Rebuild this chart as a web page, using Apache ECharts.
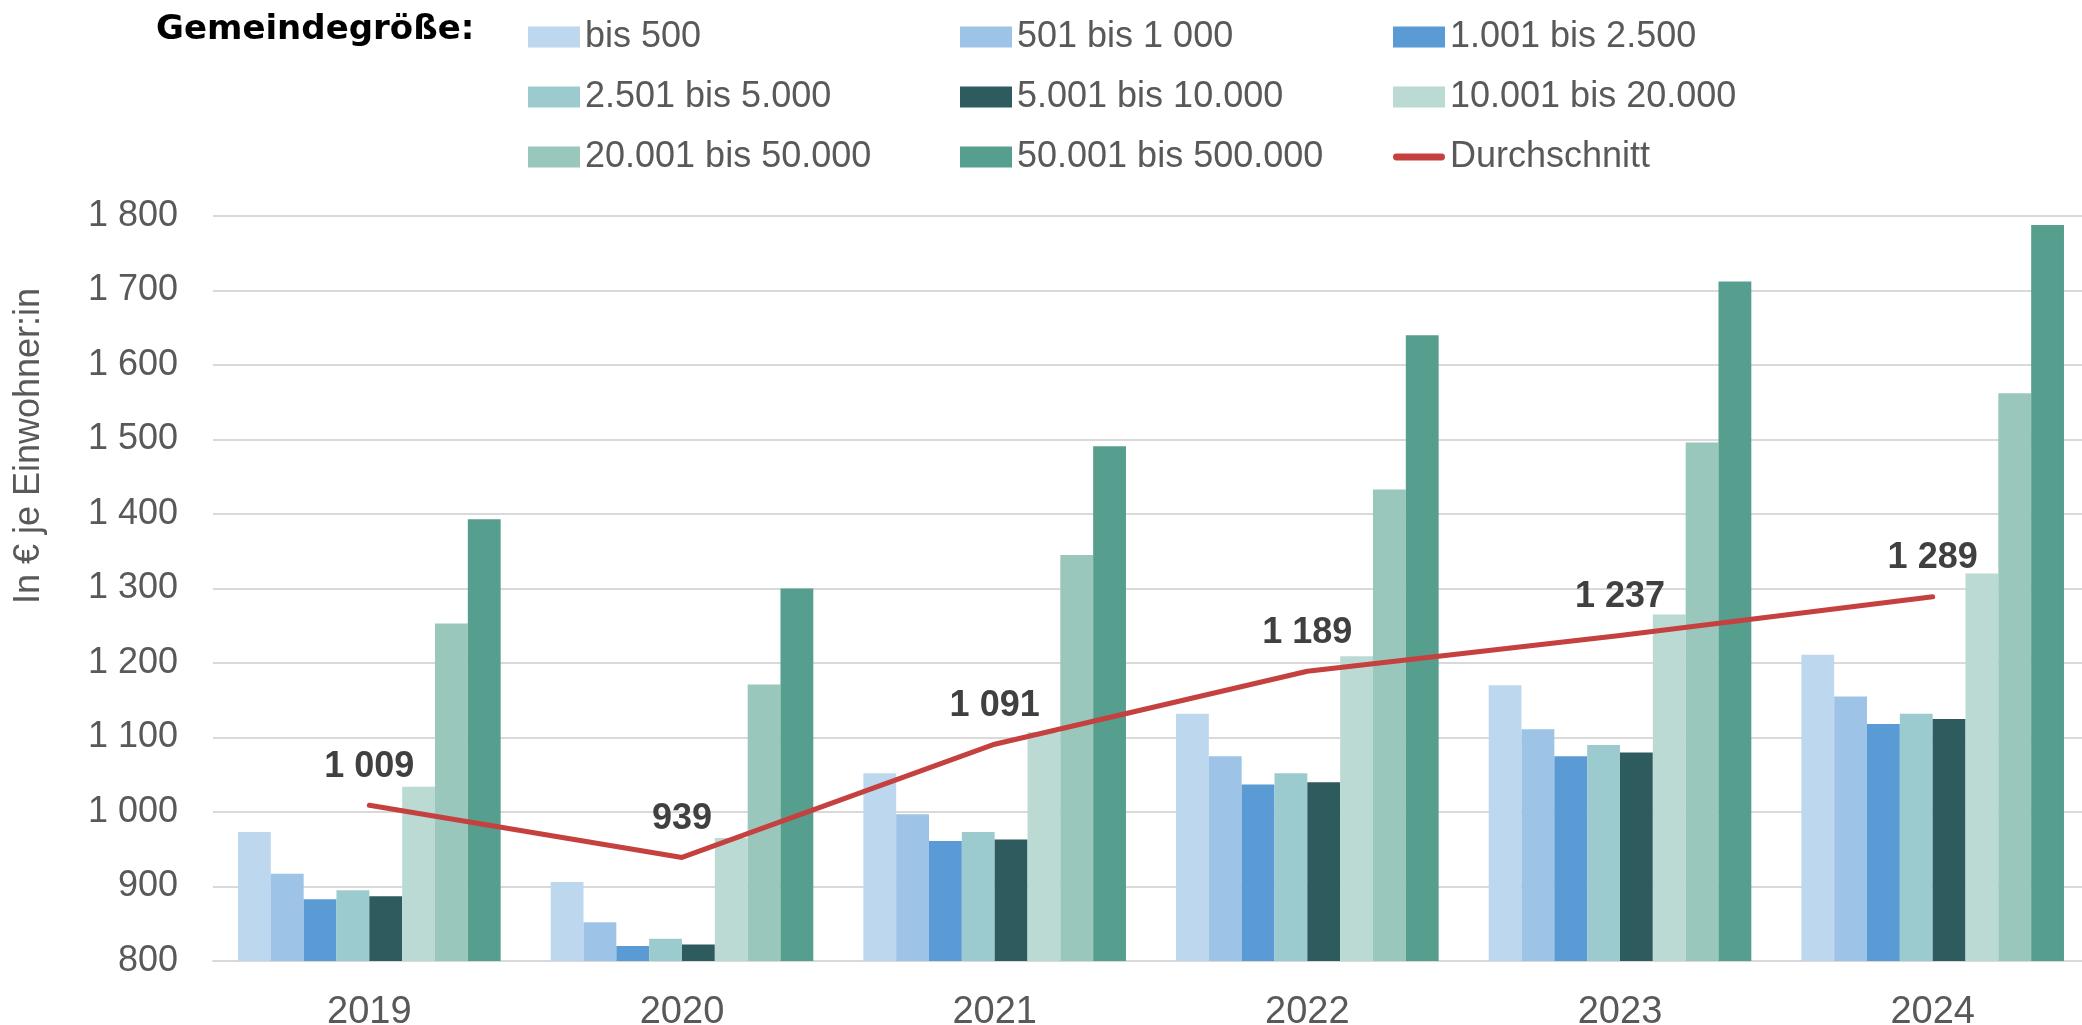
<!DOCTYPE html>
<html>
<head>
<meta charset="utf-8">
<script src="https://cdn.jsdelivr.net/npm/echarts@6/dist/echarts.min.js"></script>
<style>
html,body{margin:0;padding:0;background:#fff;}
#chart{width:2082px;height:1025px;}
</style>
</head>
<body>
<div id="chart"></div>
<script>
// ---- data ----
const years = ['2019', '2020', '2021', '2022', '2023', '2024'];
const seriesNames = ['bis 500', '501 bis 1 000', '1.001 bis 2.500', '2.501 bis 5.000',
  '5.001 bis 10.000', '10.001 bis 20.000', '20.001 bis 50.000', '50.001 bis 500.000'];
const bis500 = [973, 906, 1052, 1132, 1170, 1211];
const bis1000 = [917, 852, 997, 1075, 1111, 1155];
const bis2500 = [883, 820, 961, 1037, 1075, 1118];
const bis5000 = [895, 830, 973, 1052, 1090, 1132];
const bis10000 = [887, 822, 963, 1040, 1080, 1125];
const bis20000 = [1034, 965, 1107, 1209, 1265, 1320];
const bis50000 = [1253, 1171, 1345, 1433, 1496, 1562];
const bis500000 = [1393, 1300, 1491, 1640, 1712, 1788];
const durchschnitt = [1009, 939, 1091, 1189, 1237, 1289];
const avgName = 'Durchschnitt';
const yTicks = {min: 800, max: 1800, interval: 100};

// ---- styles ----
const colors = ['#BDD7EE', '#9DC3E6', '#5B9BD5', '#9CCBCF', '#2E5B5E', '#BCDAD4', '#9AC7BB', '#569F8E'];
const lineColor = '#C4413F';
const FONT = '"Liberation Sans", Arial, sans-serif';
const fmt = v => String(v).replace(/\B(?=(\d{3})+(?!\d))/g, ' ');

const barData = [bis500, bis1000, bis2500, bis5000, bis10000, bis20000, bis50000, bis500000];
const series = barData.map((d, i) => ({
  name: seriesNames[i],
  type: 'bar',
  data: d,
  barGap: '0%',
  barCategoryGap: '16%',
  itemStyle: {color: colors[i]},
  emphasis: {disabled: true}
}));
series.push({
  name: avgName,
  type: 'line',
  data: durchschnitt,
  symbol: 'circle',
  symbolSize: 1,
  itemStyle: {color: lineColor},
  lineStyle: {color: lineColor, width: 5, cap: 'round', join: 'round'},
  label: {
    show: true, position: 'top', distance: 20,
    fontFamily: FONT, fontSize: 36, fontWeight: 'bold', color: '#404040',
    formatter: p => fmt(p.value)
  },
  z: 5
});

const lineIcon = 'path://M4,0 L56,0 A4,4 0 0 1 56,8 L4,8 A4,4 0 0 1 4,0 Z';
const legendBase = {
  orient: 'vertical',
  top: 14,
  icon: 'rect',
  itemWidth: 52,
  itemHeight: 21,
  itemGap: 24,
  textStyle: {fontFamily: FONT, fontSize: 36, color: '#595959', lineHeight: 36},
  selectedMode: false
};
const cols = [
  [seriesNames[0], seriesNames[3], seriesNames[6]],
  [seriesNames[1], seriesNames[4], seriesNames[7]],
  [seriesNames[2], seriesNames[5], {name: avgName, icon: lineIcon}]
];
const colLeft = [523, 955, 1388];
const legends = cols.map((c, i) => Object.assign({}, legendBase, {left: colLeft[i], data: c}));

const chart = echarts.init(document.getElementById('chart'), null, {renderer: 'canvas'});
chart.setOption({
  animation: false,
  backgroundColor: '#fff',
  legend: legends,
  graphic: [
    {type: 'text', left: 156, top: 13,
     style: {text: 'Gemeindegröße:', fontFamily: '"DejaVu Sans", sans-serif', fontWeight: 'bold', fontSize: 34, fill: '#000'}},
    {type: 'text', x: 29, y: 446, rotation: Math.PI / 2,
     style: {text: 'In € je Einwohner:in', fontFamily: FONT, fontSize: 36, fill: '#595959',
             align: 'center', verticalAlign: 'middle'}}
  ],
  grid: {left: 213, top: 216, bottom: 64, width: 1876, containLabel: false, outerBoundsMode: 'none'},
  xAxis: {
    type: 'category',
    data: years,
    axisLine: {lineStyle: {color: '#D9D9D9', width: 2}},
    axisTick: {show: false},
    axisLabel: {fontFamily: FONT, fontSize: 38, color: '#595959', margin: 33}
  },
  yAxis: {
    type: 'value',
    min: yTicks.min, max: yTicks.max, interval: yTicks.interval,
    axisLine: {show: false},
    axisTick: {show: false},
    splitLine: {lineStyle: {color: '#D9D9D9', width: 2}},
    axisLabel: {fontFamily: FONT, fontSize: 36, color: '#595959', margin: 35, formatter: v => fmt(v)}
  },
  series: series
});
</script>
</body>
</html>
